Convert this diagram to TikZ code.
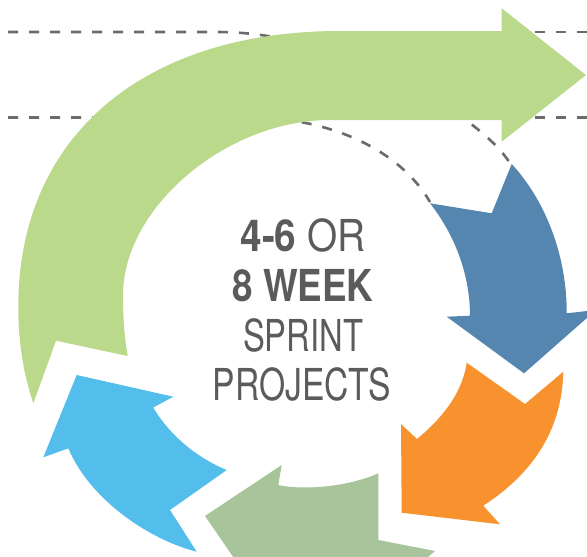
\documentclass[tikz,border=0pt]{standalone}
\usepackage{fontspec}
\setmainfont{TeX Gyre Heros}
\usepackage{graphicx}
\definecolor{cgreen}{HTML}{BAD98A}
\definecolor{cblue}{HTML}{5486B0}
\definecolor{corange}{HTML}{F7922E}
\definecolor{cgreentwo}{HTML}{A8C49A}
\definecolor{cbluetwo}{HTML}{53BDEB}
\definecolor{ctext}{HTML}{5B5B5B}
\definecolor{cdash}{HTML}{6B6B6B}
\begin{document}
\begin{tikzpicture}[x=1pt,y=-1pt,
  dashline/.style={draw=cdash, line width=2.6pt, dash pattern=on 10pt off 11pt},
  lbl/.style={text=ctext, inner sep=0pt, anchor=base, font=\fontsize{44}{44}\selectfont}]
\useasboundingbox (0,0) rectangle (587,557);
\clip (0,0) rectangle (587,557);
\fill[white] (0,0) rectangle (587,557);
% dashed guide lines (behind)
\draw[dashline] (8,32) -- (215,32) .. controls (240,32) and (260,34) .. (290,40);
\draw[dashline] (587,32) -- (505,32);
\draw[dashline] (8,117.5) -- (250,117.5) .. controls (330,117.5) and (400,150) .. (430,202);
\draw[dashline] (587,117.5) -- (505,117.5);
\draw[dashline] (455,112) .. controls (480,130) and (498,145) .. (510,163);
% big green arrow
\fill[cgreen] (33.3,403.3) -- (56,340.7) -- (127.7,356)
  .. controls (124,335) and (123,315) .. (123,295)
  .. controls (123,207.5) and (226.5,120) .. (330,120)
  -- (501.7,120) -- (501.7,141.7) -- (586,75) -- (501.7,8.3) -- (501.7,31) -- (340,31)
  .. controls (145,31) and (18.3,135) .. (18.3,306.7)
  .. controls (18.3,345) and (24,375) .. (33.3,403.3) -- cycle;
% blue arrow
\fill[cblue] (511.7,164) -- (491.7,213.3) -- (430,203.3)
  .. controls (455,235) and (470,275) .. (470,315.7)
  -- (446.7,316.7) -- (524,373.3) -- (596,310) -- (566.7,313.3)
  .. controls (567,255) and (545,200) .. (511.7,164) -- cycle;
% orange arrow
\fill[corange] (466.7,362.7) -- (525,404) -- (563.3,371.7)
  .. controls (562,425) and (538,470) .. (483.3,505.7)
  -- (500,524.3) -- (401.7,512.7) -- (401,424) -- (417,439)
  .. controls (440,420) and (462,395) .. (466.7,362.7) -- cycle;
% bottom green arrow
\fill[cgreentwo] (205,516) -- (281.7,465) -- (278.3,485)
  .. controls (300,490) and (345,488) .. (378.3,473.3)
  -- (378.3,540) -- (435,551)
  .. controls (405,580) and (330,592) .. (265,585) -- (258,593) -- cycle;
% light blue arrow
\fill[cbluetwo] (76.7,375) -- (173.3,396.7) -- (153.3,407.5)
  .. controls (165,428) and (190,455) .. (226.7,470)
  -- (170,510) -- (196.7,551.7)
  .. controls (150,540) and (90,500) .. (68.3,448.3)
  -- (43.3,457.3) -- cycle;
% text
\node[lbl] (l1) at (303,251.7) {\resizebox{125pt}{\height}{\textbf{4-6} OR}};
\node[lbl] (l2) at (303,301.7) {\resizebox{141pt}{\height}{\textbf{8 WEEK}}};
\node[lbl] (l3) at (303,351.7) {\resizebox{120pt}{\height}{SPRINT}};
\node[lbl] (l4) at (302,400) {\resizebox{178pt}{\height}{PROJECTS}};
\end{tikzpicture}
\end{document}
